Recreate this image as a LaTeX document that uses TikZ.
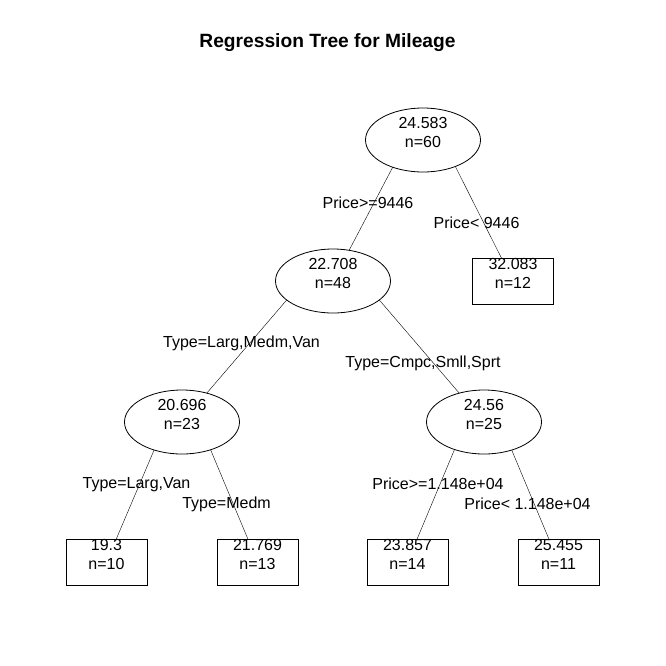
\documentclass[tikz,border=0pt]{standalone}
\usepackage{fontspec}
\setmainfont{Liberation Sans}
\usetikzlibrary{shapes,backgrounds}
\newcommand{\nodetext}[2]{#1\\n=#2\\[-4pt]\mbox{}}

\begin{document}
\begin{tikzpicture}[x=1pt,y=-1pt,line width=0.8pt,
	every node/.style={font=\fontsize{16}{19}\selectfont},
	split/.style={ellipse,draw,fill=white,inner sep=0pt,minimum width=115pt,minimum height=64pt,align=center},
	leaf/.style={rectangle,draw,fill=white,inner sep=0pt,minimum width=81pt,minimum height=46pt,align=center},
	cond/.style={anchor=base}]
	\useasboundingbox (0,0) rectangle (666,665);
	\node[font=\bfseries\fontsize{19.2}{23}\selectfont,anchor=base] (title) at (327.5,47) {Regression Tree for Mileage};
	% splits
	\node[split] (n_1) at (423,140) {\nodetext{24.583}{60}};
	\node[split] (n_2) at (333,281) {\nodetext{22.708}{48}};
	\node[split] (n_3) at (182,422) {\nodetext{20.696}{23}};
	\node[split] (n_4) at (484,422) {\nodetext{24.56}{25}};
	% leaves
	\node[leaf] (l_1) at (513,281) {\nodetext{32.083}{12}};
	\node[leaf] (l_2) at (106.5,562) {\nodetext{19.3}{10}};
	\node[leaf] (l_3) at (257.5,562) {\nodetext{21.769}{13}};
	\node[leaf] (l_4) at (407.5,562) {\nodetext{23.857}{14}};
	\node[leaf] (l_5) at (558.5,562) {\nodetext{25.455}{11}};
	\begin{pgfonlayer}{background}
	\path
	([xshift=-16pt]n_1.center) edge (n_2.center)
	([xshift=19pt]n_1.center) edge (l_1.center)
	([xshift=-30pt]n_2.center) edge (n_3.center)
	([xshift=30pt]n_2.center) edge (n_4.center)
	([xshift=-16pt]n_3.center) edge (l_2.center)
	([xshift=17pt]n_3.center) edge (l_3.center)
	([xshift=-18pt]n_4.center) edge (l_4.center)
	([xshift=16pt]n_4.center) edge (l_5.center);
	\end{pgfonlayer}
	% split conditions
	\node[cond] (c_1) at (368,208) {Price>=9446};
	\node[cond] (c_2) at (476.5,228) {Price< 9446};
	\node[cond] (c_3) at (241.5,347) {Type=Larg,Medm,Van};
	\node[cond] (c_4) at (423,367) {Type=Cmpc,Smll,Sprt};
	\node[cond] (c_5) at (136.5,488) {Type=Larg,Van};
	\node[cond] (c_6) at (226.5,508) {Type=Medm};
	\node[cond] (c_7) at (438,489) {Price>=1.148e+04};
	\node[cond] (c_8) at (527.5,509) {Price< 1.148e+04};
\end{tikzpicture}
\end{document}
